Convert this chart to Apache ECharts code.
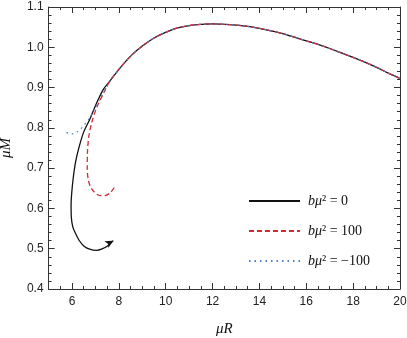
<!DOCTYPE html>
<html>
<head>
<meta charset="utf-8">
<script src="https://cdn.jsdelivr.net/npm/echarts@6/dist/echarts.min.js"></script>
<style>
  html, body { margin: 0; padding: 0; background: #fff; }
  #chart { width: 407px; height: 338px; }
</style>
</head>
<body>
<div id="chart"></div>
<script>
// shared branch (muR, muM), from right end towards the turning region
const mainBranch = [
  [20, 0.923], [19.5, 0.936], [19, 0.950], [18.5, 0.963], [18, 0.975], [17.5, 0.986],
  [17, 0.997], [16.5, 1.007], [16, 1.016], [15.5, 1.025], [15, 1.034], [14.5, 1.041],
  [14, 1.047], [13.5, 1.052], [13, 1.055], [12.5, 1.057], [12, 1.058], [11.5, 1.057],
  [11, 1.054], [10.5, 1.048], [10, 1.037], [9.5, 1.023], [9, 1.003], [8.5, 0.978],
  [8, 0.945], [7.6, 0.915]
]
// b mu^2 = 0 : spiral ending with an arrow
const head0 = [
  [7.33, 0.895], [7.0, 0.855], [6.75, 0.82], [6.5, 0.79], [6.3, 0.752], [6.15, 0.715],
  [6.05, 0.675], [5.99, 0.64], [5.96, 0.61], [5.97, 0.578], [6.03, 0.555], [6.13, 0.54],
  [6.3, 0.521], [6.5, 0.507], [6.75, 0.499], [7.05, 0.496], [7.3, 0.5], [7.5, 0.506],
  [7.76, 0.52]
]
// b mu^2 = 100
const head100 = [
  [7.33, 0.884], [7.05, 0.85], [6.85, 0.815], [6.72, 0.78], [6.66, 0.74], [6.65, 0.70],
  [6.69, 0.672], [6.78, 0.655], [6.96, 0.640], [7.2, 0.632], [7.42, 0.632], [7.65, 0.64],
  [7.8, 0.652]
]
// b mu^2 = -100
const headM100 = [
  [7.48, 0.900], [7.2, 0.873], [6.98, 0.849], [6.7, 0.82], [6.5, 0.806], [6.34, 0.795],
  [6.15, 0.788], [5.99, 0.785], [5.85, 0.787], [5.7, 0.789]
]
const seriesNames = ['0', '100', '\u2212100']

const chart = echarts.init(document.getElementById('chart'))

const frameColor = '#333'
const labelStyle = { color: '#222', fontFamily: 'Liberation Sans', fontSize: 12 }

// minor tick axes (no labels, no line)
function minorX(pos) {
  return {
    type: 'value', position: pos, min: 5, max: 20, interval: 0.5,
    axisLine: { show: false }, axisLabel: { show: false }, splitLine: { show: false },
    axisTick: { inside: true, length: 3, lineStyle: { color: frameColor } }
  }
}
function majorX(pos, labels) {
  return {
    type: 'value', position: pos, min: 5, max: 20, splitNumber: 7, minInterval: 2, maxInterval: 2,
    axisLine: { show: true, lineStyle: { color: frameColor, width: 1 } },
    axisTick: { inside: true, length: 6, lineStyle: { color: frameColor } },
    splitLine: { show: false },
    axisLabel: Object.assign({ show: labels, showMinLabel: false, margin: 7 }, labelStyle)
  }
}
function yAx(pos, labels) {
  return {
    type: 'value', position: pos, min: 0.4, max: 1.1, interval: 0.1,
    axisLine: { show: true, lineStyle: { color: frameColor, width: 1 } },
    axisTick: { inside: true, length: 6, lineStyle: { color: frameColor } },
    minorTick: { show: true, splitNumber: 5, length: 3, lineStyle: { color: frameColor } },
    splitLine: { show: false },
    axisLabel: Object.assign({ show: labels, margin: 5, formatter: v => v.toFixed(1) }, labelStyle)
  }
}

const xMain = majorX('bottom', true)
xMain.name = '\u03bcR'
xMain.nameLocation = 'middle'
xMain.nameGap = 33
xMain.nameTextStyle = { fontFamily: 'Liberation Serif', fontStyle: 'italic', fontSize: 15, color: '#111' }

const yMain = yAx('left', true)
yMain.name = '\u03bcM'
yMain.nameLocation = 'middle'
yMain.nameGap = 35
yMain.nameRotate = 90
yMain.nameTextStyle = { fontFamily: 'Liberation Serif', fontStyle: 'italic', fontSize: 15, color: '#111' }

const lastPt = head0[head0.length - 1]

chart.setOption({
  animation: false,
  backgroundColor: '#fff',
  grid: { left: 48.6, right: 7, top: 7, bottom: 49, containLabel: false, outerBoundsMode: 'none' },
  legend: {
    orient: 'vertical', left: 243, top: 189,
    itemWidth: 51, itemHeight: 14, itemGap: 16,
    data: seriesNames,
    itemStyle: { opacity: 0 },
    formatter: name => '{i|b\u03bc}{t|\u00b2 = ' + name + '}',
    textStyle: {
      padding: [0, 0, 0, 3],
      rich: {
        i: { fontFamily: 'Liberation Serif', fontStyle: 'italic', fontSize: 14, color: '#111' },
        t: { fontFamily: 'Liberation Serif', fontSize: 14, color: '#111' }
      }
    }
  },
  xAxis: [xMain, minorX('bottom'), majorX('top', false), minorX('top')],
  yAxis: [yMain, yAx('right', false)],
  series: [
    {
      name: seriesNames[0], type: 'line', xAxisIndex: 0, yAxisIndex: 0,
      data: mainBranch.concat(head0), smooth: 0.3, symbol: 'none', showSymbol: false,
      lineStyle: { color: '#111', width: 1.3 }, itemStyle: { color: '#111' },
      markPoint: {
        silent: true,
        data: [{ coord: lastPt, symbol: 'arrow', symbolSize: [6, 8], symbolRotate: -60 }],
        label: { show: false }, itemStyle: { color: '#111' }
      }
    },
    {
      name: seriesNames[1], type: 'line', xAxisIndex: 0, yAxisIndex: 0,
      data: mainBranch.concat(head100), smooth: 0.3, symbol: 'none', showSymbol: false,
      lineStyle: { color: '#d12b35', width: 1.3, type: [5, 3] }, itemStyle: { color: '#d12b35' }
    },
    {
      name: seriesNames[2], type: 'line', xAxisIndex: 0, yAxisIndex: 0,
      data: mainBranch.concat(headM100), smooth: 0.3, symbol: 'none', showSymbol: false,
      lineStyle: { color: '#4a83cc', width: 1.3, type: [1.5, 4] }, itemStyle: { color: '#4a83cc' }
    }
  ]
})
</script>
</body>
</html>
